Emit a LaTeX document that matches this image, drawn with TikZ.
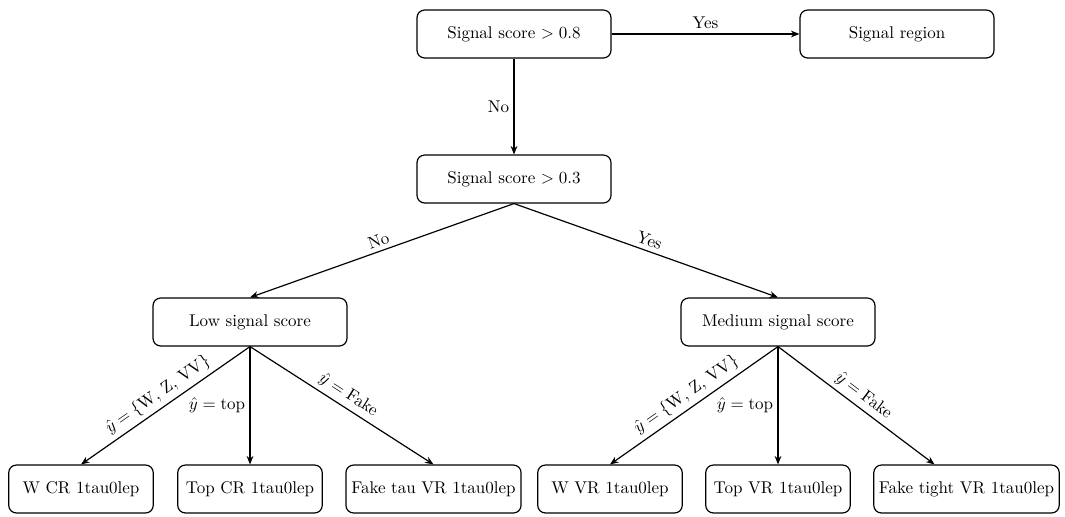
\documentclass[tikz,border=0pt]{standalone}
\usetikzlibrary{arrows.meta,calc}
\tikzset{
  box/.style={draw, rounded corners=4.5pt, line width=0.7pt, minimum height=28.2pt,
              inner sep=3pt, align=center, font=\normalsize},
  bigbox/.style={box, minimum width=114.1pt},
  leafbox/.style={box, minimum width=85pt},
  link/.style={-{Stealth[length=5pt,width=4pt]}, line width=0.7pt},
  lbl/.style={font=\normalsize, inner sep=2.5pt}
}
\begin{document}
\begin{tikzpicture}[x=0.5882pt,y=-0.5882pt]
  \useasboundingbox (0,0) rectangle (1065,516);

  % decision boxes
  \node[bigbox] (s08)  at (514,34)  {Signal score $>0.8$};
  \node[bigbox] (sr)   at (897,34)  {Signal region};
  \node[bigbox] (s03)  at (514,179) {Signal score $>0.3$};
  \node[bigbox] (low)  at (250,322) {Low signal score};
  \node[bigbox] (med)  at (778,322) {Medium signal score};

  % regions
  \node[leafbox] (wcr)  at (81,489)    {W CR 1tau0lep};
  \node[leafbox] (tcr)  at (250,489)   {Top CR 1tau0lep};
  \node[box, minimum width=103pt] (fcr) at (433.5,489) {Fake tau VR 1tau0lep};
  \node[leafbox] (wvr)  at (610,489)   {W VR 1tau0lep};
  \node[leafbox] (tvr)  at (778,489)   {Top VR 1tau0lep};
  \node[box, minimum width=108.8pt] (fvr) at (966.5,489) {Fake tight VR 1tau0lep};

  % top level cuts
  \draw[link] (s08) -- node[lbl, above] {Yes} (sr);
  \draw[link] (s08) -- node[lbl, left] {No} (s03);
  \draw[link] (s03.south) -- node[lbl, above, sloped] {No} (low.north);
  \draw[link] (s03.south) -- node[lbl, above, sloped] {Yes} (med.north);

  % classifier splits, low score
  \draw[link] (low.south) -- node[lbl, above, sloped] {$\hat{y}=\{\mathrm{W},\,\mathrm{Z},\,\mathrm{VV}\}$} (wcr.north);
  \draw[link] (low.south) -- node[lbl, left] {$\hat{y}=\mathrm{top}$} (tcr.north);
  \draw[link] (low.south) -- node[lbl, above, sloped] {$\hat{y}=\mathrm{Fake}$} (fcr.north);

  % classifier splits, medium score
  \draw[link] (med.south) -- node[lbl, above, sloped] {$\hat{y}=\{\mathrm{W},\,\mathrm{Z},\,\mathrm{VV}\}$} (wvr.north);
  \draw[link] (med.south) -- node[lbl, left] {$\hat{y}=\mathrm{top}$} (tvr.north);
  \draw[link] (med.south) -- node[lbl, above, sloped] {$\hat{y}=\mathrm{Fake}$} ($(fvr.north)+(-32,0)$);
\end{tikzpicture}
\end{document}
